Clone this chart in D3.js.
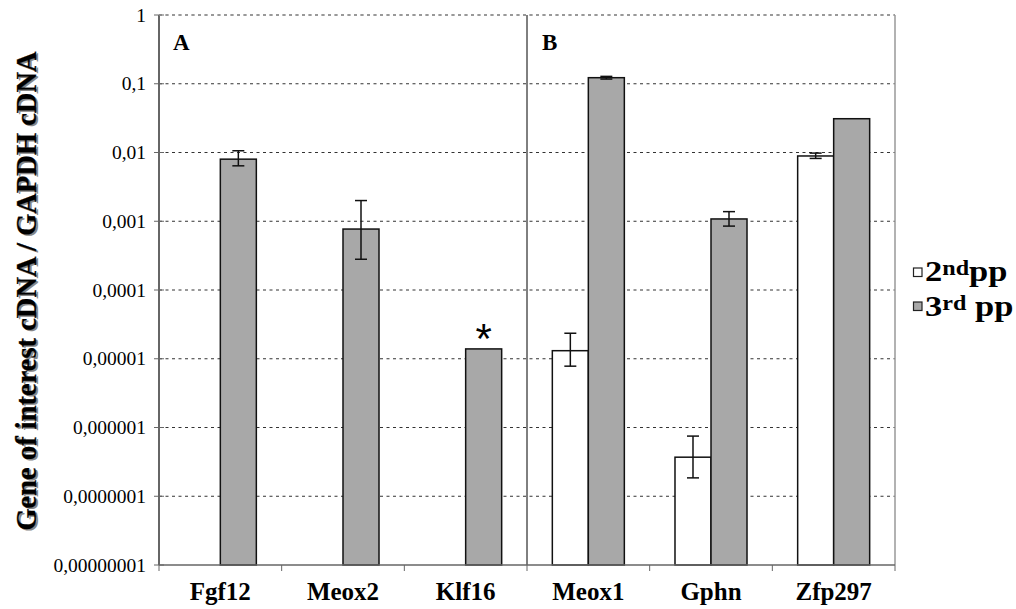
<!DOCTYPE html>
<html><head><meta charset="utf-8">
<script src="https://cdn.jsdelivr.net/npm/d3@7"></script>
<style>
html,body{margin:0;padding:0;background:#fff;}
svg{display:block;}
</style></head>
<body>
<svg id="chart" width="1016" height="609"></svg>
<script>
const categories = ["Fgf12","Meox2","Klf16","Meox1","Gphn","Zfp297"];
const seriesNames = ["2ndpp","3rdpp"];
const pp2 = [null, null, null, 1.31e-5, 3.7e-7, 0.0089];
const pp2Low = [null, null, null, 7.8e-6, 1.85e-7, 0.0082];
const pp2High = [null, null, null, 2.35e-5, 7.5e-7, 0.0098];
const pp3 = [0.0080, 0.00077, 1.39e-5, 0.1225, 0.00108, 0.031];
const pp3Low = [0.0064, 0.00028, null, 0.117, 0.00085, null];
const pp3High = [0.0106, 0.0020, null, 0.128, 0.00138, null];
const yTicks = [1, 0.1, 0.01, 0.001, 0.0001, 0.00001, 0.000001, 0.0000001, 0.00000001];
const yTickLabels = ["1","0,1","0,01","0,001","0,0001","0,00001","0,000001","0,0000001","0,00000001"];
const starred = ["Klf16"];

const svg = d3.select("#chart");
const L = 159, R = 895, T = 15, B = 565;
const serif = "'Liberation Serif','Times New Roman',Times,serif";

const x = d3.scaleBand().domain(categories).range([L, R]).paddingInner(0).paddingOuter(0);
const x1 = d3.scaleBand().domain(seriesNames).range([0, x.bandwidth()]).paddingInner(0).paddingOuter(0.7035);
const y = d3.scaleLog().domain([1e-8, 1]).range([B, T]);

// gridlines
svg.append("g").selectAll("line").data(yTicks.slice(0, -1)).join("line")
  .attr("x1", L).attr("x2", R).attr("y1", d => y(d)).attr("y2", d => y(d))
  .attr("stroke", "#333").attr("stroke-width", 1).attr("stroke-dasharray", "3,3.5");

// right border
svg.append("line").attr("x1", R).attr("x2", R).attr("y1", T).attr("y2", B)
  .attr("stroke", "#999").attr("stroke-width", 1.5);

// separator A|B
svg.append("line").attr("x1", x("Meox1")).attr("x2", x("Meox1")).attr("y1", T).attr("y2", B)
  .attr("stroke", "#000").attr("stroke-width", 1);

// bars
const rows = [];
categories.forEach((c, i) => {
  rows.push({c, s: "2ndpp", v: pp2[i], lo: pp2Low[i], hi: pp2High[i]});
  rows.push({c, s: "3rdpp", v: pp3[i], lo: pp3Low[i], hi: pp3High[i]});
});
const bars = rows.filter(r => r.v != null);
svg.append("g").selectAll("rect").data(bars).join("rect")
  .attr("x", d => x(d.c) + x1(d.s))
  .attr("width", x1.bandwidth())
  .attr("y", d => y(d.v))
  .attr("height", d => B - y(d.v))
  .attr("fill", d => d.s === "2ndpp" ? "#ffffff" : "#a8a8a8")
  .attr("stroke", "#111").attr("stroke-width", 1.5);

// error bars
const errs = rows.filter(r => r.lo != null);
const eg = svg.append("g").attr("stroke", "#111").attr("stroke-width", 1.5);
errs.forEach(d => {
  const cx = x(d.c) + x1(d.s) + x1.bandwidth() / 2;
  eg.append("line").attr("x1", cx).attr("x2", cx).attr("y1", y(d.hi)).attr("y2", y(d.lo));
  eg.append("line").attr("x1", cx - 6).attr("x2", cx + 6).attr("y1", y(d.hi)).attr("y2", y(d.hi));
  eg.append("line").attr("x1", cx - 6).attr("x2", cx + 6).attr("y1", y(d.lo)).attr("y2", y(d.lo));
});

// asterisk
starred.forEach(c => {
  const i = categories.indexOf(c);
  svg.append("text")
    .attr("x", x(c) + x1("3rdpp") + x1.bandwidth() / 2)
    .attr("y", y(pp3[i]) + 4)
    .attr("text-anchor", "middle")
    .attr("font-family", "'Liberation Sans',Arial,sans-serif")
    .attr("font-size", 42).attr("fill", "#000").text("*");
});

// y axis
const yAxis = svg.append("g");
yAxis.append("line").attr("x1", L).attr("x2", L).attr("y1", T).attr("y2", B)
  .attr("stroke", "#666").attr("stroke-width", 2);
yAxis.selectAll("line.t").data(yTicks).join("line").attr("class", "t")
  .attr("x1", L - 5).attr("x2", L + 5).attr("y1", d => y(d)).attr("y2", d => y(d))
  .attr("stroke", "#666").attr("stroke-width", 1);
yAxis.selectAll("text").data(yTicks).join("text")
  .attr("x", 146).attr("y", d => y(d) + 6.5)
  .attr("text-anchor", "end").attr("font-family", serif).attr("font-size", 19.5)
  .attr("fill", "#000").text((d, i) => yTickLabels[i]);

// top border
svg.append("line").attr("x1", L).attr("x2", R).attr("y1", T).attr("y2", T)
  .attr("stroke", "#999").attr("stroke-width", 1).attr("stroke-dasharray", "3,3.5");

// x axis
const xAxis = svg.append("g");
xAxis.append("line").attr("x1", L).attr("x2", R).attr("y1", B).attr("y2", B)
  .attr("stroke", "#666").attr("stroke-width", 1.5);
const bounds = categories.map(c => x(c)).concat([R]);
xAxis.selectAll("line.t").data(bounds).join("line").attr("class", "t")
  .attr("x1", d => d).attr("x2", d => d).attr("y1", B).attr("y2", B + 6)
  .attr("stroke", "#666").attr("stroke-width", 1);
xAxis.selectAll("text").data(categories).join("text")
  .attr("x", d => x(d) + x.bandwidth() / 2).attr("y", 600)
  .attr("text-anchor", "middle").attr("font-family", serif).attr("font-weight", "bold")
  .attr("font-size", 25).attr("fill", "#000").text(d => d);

// panel labels
svg.append("text").attr("x", 173).attr("y", 50).attr("font-family", serif)
  .attr("font-weight", "bold").attr("font-size", 23).text("A");
svg.append("text").attr("x", 542).attr("y", 50).attr("font-family", serif)
  .attr("font-weight", "bold").attr("font-size", 23).text("B");

// y title with shadow
const yTitle = "Gene of interest cDNA / GAPDH cDNA";
svg.append("text").attr("transform", "translate(37.5,292.5) rotate(-90)")
  .attr("text-anchor", "middle").attr("font-family", serif).attr("font-weight", "bold")
  .attr("font-size", 28.5).attr("fill", "#888").text(yTitle);
svg.append("text").attr("transform", "translate(36,291) rotate(-90)")
  .attr("text-anchor", "middle").attr("font-family", serif).attr("font-weight", "bold")
  .attr("font-size", 28.5).attr("fill", "#000").attr("stroke", "#000").attr("stroke-width", 0.3).text(yTitle);

// legend
const leg = svg.append("g");
const legItems = [
  {s: "2ndpp", main: "2", sup: "nd", tail: "pp", fill: "#ffffff", y: 281, sq: 268},
  {s: "3rdpp", main: "3", sup: "rd", tail: "\u00a0pp", fill: "#a8a8a8", y: 316, sq: 302}
];
legItems.forEach(it => {
  leg.append("rect").attr("x", 913.5).attr("y", it.sq).attr("width", 8.5).attr("height", 8.5)
    .attr("fill", it.fill).attr("stroke", "#222").attr("stroke-width", 1.2);
  const t = leg.append("text").attr("transform", `translate(925,${it.y}) scale(1.15,1)`)
    .attr("font-family", serif)
    .attr("font-weight", "bold").attr("font-size", 30).attr("fill", "#000");
  t.append("tspan").text(it.main);
  t.append("tspan").attr("font-size", 21).attr("dy", -6).text(it.sup);
  t.append("tspan").attr("dy", 6).text(it.tail);
});
</script>
</body></html>
